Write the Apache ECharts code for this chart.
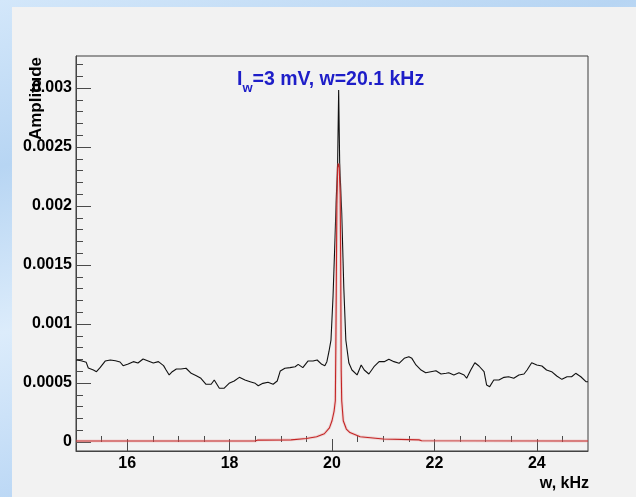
<!DOCTYPE html>
<html><head><meta charset="utf-8">
<script src="https://cdn.jsdelivr.net/npm/echarts@6/dist/echarts.min.js"></script>
<style>
html,body{margin:0;padding:0;width:636px;height:497px;overflow:hidden;}
body{background:linear-gradient(165deg,#d3e7fa 0%,#b7d5f3 25%,#dcecfb 50%,#bcd8f5 75%,#d6e8fa 100%);}
#panel{position:absolute;left:12px;top:7px;width:624px;height:490px;background:#f2f2f2;}
#chart{position:absolute;left:0;top:0;width:636px;height:497px;}
</style></head><body><div id="panel"></div><div id="chart"></div>
<script>
// ---- data ----
const xBlack = [15.00,15.10,15.20,15.24,15.34,15.40,15.47,15.57,15.67,15.77,15.86,15.92,16.02,16.12,16.21,16.31,16.41,16.51,16.61,16.71,16.76,16.82,16.88,16.96,17.05,17.15,17.25,17.35,17.44,17.54,17.64,17.70,17.80,17.89,17.99,18.09,18.19,18.30,18.40,18.50,18.56,18.65,18.75,18.85,18.93,18.99,19.08,19.18,19.28,19.34,19.43,19.53,19.63,19.71,19.80,19.86,19.90,19.94,19.98,20.02,20.06,20.08,20.11,20.13,20.15,20.19,20.23,20.27,20.33,20.39,20.49,20.57,20.63,20.72,20.82,20.92,21.02,21.11,21.21,21.31,21.41,21.50,21.56,21.64,21.74,21.83,21.93,22.03,22.13,22.23,22.28,22.38,22.48,22.58,22.63,22.71,22.79,22.87,22.97,23.02,23.08,23.16,23.26,23.36,23.45,23.55,23.65,23.75,23.81,23.90,24.00,24.10,24.19,24.29,24.39,24.49,24.59,24.68,24.76,24.86,24.96,25.00];
const yBlack = [0.000695,0.000689,0.000675,0.000627,0.000610,0.000596,0.000630,0.000686,0.000695,0.000689,0.000678,0.000647,0.000661,0.000681,0.000669,0.000703,0.000686,0.000669,0.000681,0.000647,0.000610,0.000568,0.000596,0.000619,0.000619,0.000625,0.000582,0.000562,0.000540,0.000489,0.000489,0.000525,0.000455,0.000455,0.000497,0.000517,0.000548,0.000525,0.000511,0.000497,0.000477,0.000497,0.000506,0.000489,0.000517,0.000602,0.000625,0.000630,0.000638,0.000658,0.000630,0.000686,0.000686,0.000695,0.000658,0.000647,0.000681,0.000765,0.000864,0.001231,0.001740,0.002025,0.002364,0.002983,0.002364,0.001940,0.001314,0.000864,0.000669,0.000610,0.000568,0.000653,0.000610,0.000576,0.000638,0.000681,0.000681,0.000701,0.000681,0.000667,0.000709,0.000723,0.000709,0.000653,0.000610,0.000587,0.000596,0.000604,0.000576,0.000582,0.000587,0.000568,0.000587,0.000568,0.000540,0.000610,0.000672,0.000644,0.000596,0.000483,0.000469,0.000525,0.000525,0.000548,0.000553,0.000540,0.000568,0.000576,0.000610,0.000672,0.000653,0.000644,0.000610,0.000596,0.000559,0.000531,0.000553,0.000553,0.000582,0.000553,0.000511,0.000510];
const xFit = [15.0,18.5,18.55,19.2,19.5,19.7,19.85,19.95,20.0,20.04,20.065,20.075,20.085,20.095,20.11,20.125,20.14,20.16,20.17,20.18,20.19,20.22,20.28,20.35,20.55,21.0,21.7,21.75,25.0];
const yFit = [0.000008,0.000008,0.000016,0.000018,0.000030,0.000045,0.00007,0.00012,0.00018,0.00026,0.00035,0.0008,0.0014,0.0020,0.00232,0.00236,0.00233,0.0021,0.0015,0.0006,0.00035,0.00018,0.00011,0.00008,0.000045,0.000025,0.000018,0.00001,0.000008];

const xMajorTicks = [16,18,20,22,24];
const xTickLabels = ['16','18','20','22','24'];
const xMinorTicks = [15.5,16.5,17,17.5,18.5,19,19.5,20.5,21,21.5,22.5,23,23.5,24.5];
const yMajorTicks = [0,0.0005,0.001,0.0015,0.002,0.0025,0.003];
const yTickLabels = ['0','0.0005','0.001','0.0015','0.002','0.0025','0.003'];
const yMinorTicks = [0.0001,0.0002,0.0003,0.0004,0.0006,0.0007,0.0008,0.0009,0.0011,0.0012,0.0013,0.0014,0.0016,0.0017,0.0018,0.0019,0.0021,0.0022,0.0023,0.0024,0.0026,0.0027,0.0028,0.0029,0.0031,0.0032];
const xMin = 15, xMax = 25, yMin = -0.0000763, yMax = 0.0032712;

const titleMain = 'I', titleSub = 'w', titleRest = '=3 mV, w=20.1 kHz';
const xName = 'w, kHz', yName = 'Amplitude';

// ---- chart ----
const FONT = '"Liberation Sans", Arial, Helvetica, sans-serif';
const lab = (vals, labels) => v => { const i = vals.findIndex(t => Math.abs(t - v) < 1e-9); return i >= 0 ? labels[i] : ''; };
const chart = echarts.init(document.getElementById('chart'), null, {renderer: 'canvas'});
const labStyle = {color: '#000', fontSize: 16, fontWeight: 'bold', fontFamily: FONT};
const tickStyle = {color: '#4a4a4a', width: 1};
chart.setOption({
  animation: false,
  backgroundColor: 'transparent',
  grid: {left: 76, top: 56, width: 512, height: 395, show: true, borderColor: '#3c3c3c', borderWidth: 1, backgroundColor: 'transparent'},
  xAxis: [
    {type: 'value', min: xMin, max: xMax, position: 'bottom',
     axisLine: {show: true, onZero: false, lineStyle: {color: '#444', width: 1}},
     axisTick: {show: true, inside: true, length: 12, customValues: xMajorTicks, lineStyle: tickStyle},
     axisLabel: Object.assign({show: true, customValues: xMajorTicks, formatter: lab(xMajorTicks, xTickLabels), margin: 5}, labStyle),
     splitLine: {show: false}},
    {type: 'value', min: xMin, max: xMax, position: 'bottom',
     axisLine: {show: false},
     axisTick: {show: true, inside: true, length: 6, customValues: xMinorTicks, lineStyle: tickStyle},
     axisLabel: {show: false}, splitLine: {show: false}}
  ],
  yAxis: [
    {type: 'value', min: yMin, max: yMax, position: 'left',
     axisLine: {show: true, onZero: false, lineStyle: {color: '#444', width: 1}},
     axisTick: {show: true, inside: true, length: 15, customValues: yMajorTicks, lineStyle: tickStyle},
     axisLabel: Object.assign({show: true, customValues: yMajorTicks, formatter: lab(yMajorTicks, yTickLabels), margin: 4}, labStyle),
     splitLine: {show: false}},
    {type: 'value', min: yMin, max: yMax, position: 'left',
     axisLine: {show: false},
     axisTick: {show: true, inside: true, length: 7, customValues: yMinorTicks, lineStyle: tickStyle},
     axisLabel: {show: false}, splitLine: {show: false}}
  ],
  graphic: [
    {type: 'text', x: 237, y: 79.5, style: {text: titleMain, fill: '#1e1ec8', font: 'bold 19.5px ' + FONT, align: 'left', verticalAlign: 'middle'}},
    {type: 'text', x: 242.5, y: 88.5, style: {text: titleSub, fill: '#1e1ec8', font: 'bold 13px ' + FONT, align: 'left', verticalAlign: 'middle'}},
    {type: 'text', x: 252.5, y: 79.5, style: {text: titleRest, fill: '#1e1ec8', font: 'bold 19.5px ' + FONT, align: 'left', verticalAlign: 'middle'}},
    {type: 'text', x: 589, y: 484, style: {text: xName, fill: '#000', font: 'bold 16px ' + FONT, align: 'right', verticalAlign: 'middle'}},
    {type: 'text', x: 36, y: 57, rotation: Math.PI / 2, style: {text: yName, fill: '#000', font: 'bold 17px ' + FONT, align: 'right', verticalAlign: 'middle'}}
  ],
  series: [
    {type: 'line', name: 'data', xAxisIndex: 0, yAxisIndex: 0, symbol: 'none', z: 3,
     data: xBlack.map((x, i) => [x, yBlack[i]]), lineStyle: {color: '#111', width: 1.1}},
    {type: 'line', name: 'fit-halo', xAxisIndex: 0, yAxisIndex: 0, symbol: 'none', z: 4, silent: true,
     data: xFit.map((x, i) => [x, yFit[i]]), lineStyle: {color: 'rgba(225,150,150,0.3)', width: 3}},
    {type: 'line', name: 'fit', xAxisIndex: 0, yAxisIndex: 0, symbol: 'none', z: 5,
     data: xFit.map((x, i) => [x, yFit[i]]), lineStyle: {color: '#c42424', width: 1.1}}
  ]
});
</script></body></html>
